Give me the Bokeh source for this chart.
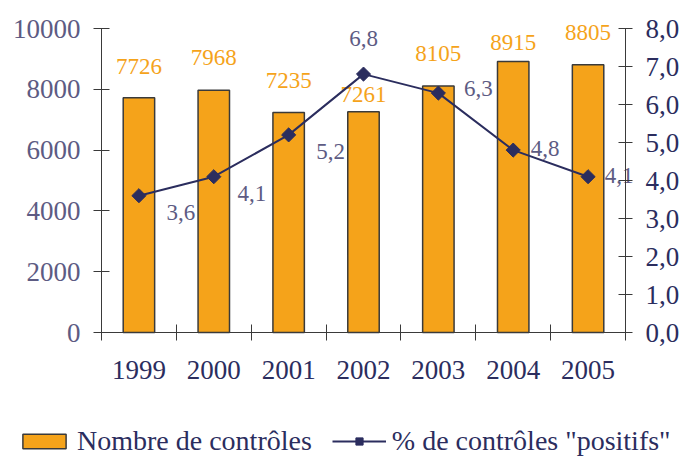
from math import pi
from bokeh.plotting import figure
from bokeh.models import (Range1d, LinearAxis, FixedTicker, ColumnDataSource,
                          Legend, LegendItem)
from bokeh.core.properties import value
from bokeh.embed import file_html
from bokeh.resources import INLINE

# ---- data ----
years = ["1999", "2000", "2001", "2002", "2003", "2004", "2005"]
controles = [7726, 7968, 7235, 7261, 8105, 8915, 8805]
positifs = [3.6, 4.1, 5.2, 6.8, 6.3, 4.8, 4.1]
positifs_labels = ["3,6", "4,1", "5,2", "6,8", "6,3", "4,8", "4,1"]
left_ticks = [0, 2000, 4000, 6000, 8000, 10000]
right_ticks = [0, 1, 2, 3, 4, 5, 6, 7, 8]
right_tick_labels = ["0,0", "1,0", "2,0", "3,0", "4,0", "5,0", "6,0", "7,0", "8,0"]
series_names = ["Nombre de contrôles", '% de contrôles "positifs"']

# ---- label placement (screen px, positive = down / right) ----
bar_label_dy = [-31, -33, -32, -17, -33, -19, -32]
pct_label_dx = [42, 38, 42, 0, 40, 32, 31]
pct_label_dy = [17, 17, 17, -36, -5, -2, -1]

FONT = "Liberation Serif"
ORANGE = "#F5A31A"
NAVY = "#2B2D5E"
GREYPURPLE = "#5D5B83"
AXIS = "#3A3A3A"

# ---- layout (pixels of the whole picture) ----
W, H = 681, 458
AX_L, AX_R = 101, 625      # left / right axis lines
AX_TOP, AX_BOT = 28, 332   # top tick / zero line

n_cat = len(years)
LEFT_MAX = left_ticks[-1]
RIGHT_MAX = right_ticks[-1]
ppx = (AX_R - AX_L) / n_cat
x_start = -AX_L / ppx
x_end = n_cat + (W - AX_R) / ppx
yfrac_lo = -(H - AX_BOT) / (AX_BOT - AX_TOP)
yfrac_hi = 1 + AX_TOP / (AX_BOT - AX_TOP)

centers = [i + 0.5 for i in range(n_cat)]
bounds = list(range(n_cat + 1))

src = ColumnDataSource(dict(
    x=centers, n=controles, n_label=[str(v) for v in controles],
    bdy=bar_label_dy, pct=positifs, pct_label=positifs_labels,
    ldx=pct_label_dx, ldy=pct_label_dy,
))

p = figure(width=W, height=H, x_range=Range1d(x_start, x_end),
           y_range=Range1d(LEFT_MAX * yfrac_lo, LEFT_MAX * yfrac_hi),
           output_backend="svg", toolbar_location=None,
           min_border_left=0, min_border_right=0,
           min_border_top=0, min_border_bottom=0)
p.outline_line_color = None
p.xgrid.visible = False
p.ygrid.visible = False
p.extra_y_ranges = {"pct": Range1d(RIGHT_MAX * yfrac_lo, RIGHT_MAX * yfrac_hi)}

# x axis (pinned at zero)
xa = p.xaxis[0]
xa.fixed_location = 0
xa.bounds = (0, n_cat)
xa.ticker = FixedTicker(ticks=centers, minor_ticks=bounds)
xa.major_label_overrides = {c: y for c, y in zip(centers, years)}
xa.major_tick_in = 0
xa.major_tick_out = 0
xa.minor_tick_in = 8
xa.minor_tick_out = 8
xa.minor_tick_line_color = AXIS
xa.axis_line_color = AXIS
xa.major_label_standoff = 20
xa.major_label_text_font = FONT
xa.major_label_text_font_size = "27px"
xa.major_label_text_color = NAVY

# left axis (pinned at the first category edge)
ya = p.yaxis[0]
ya.fixed_location = 0
ya.ticker = FixedTicker(ticks=left_ticks)
ya.major_label_overrides = {t: str(t) for t in left_ticks}
ya.bounds = (0, LEFT_MAX)
ya.major_tick_in = 8
ya.major_tick_out = 8
ya.minor_tick_line_color = None
ya.axis_line_color = AXIS
ya.major_tick_line_color = AXIS
ya.major_label_standoff = 13
ya.major_label_text_font = FONT
ya.major_label_text_font_size = "27px"
ya.major_label_text_color = GREYPURPLE

# right axis (pinned at the last category edge)
ra = LinearAxis(y_range_name="pct", ticker=FixedTicker(ticks=right_ticks),
                major_label_overrides=dict(zip(right_ticks, right_tick_labels)),
                bounds=(0, RIGHT_MAX), fixed_location=n_cat)
ra.major_tick_in = 7
ra.major_tick_out = 7
ra.minor_tick_line_color = None
ra.axis_line_color = AXIS
ra.major_tick_line_color = AXIS
ra.major_label_standoff = 13
ra.major_label_text_font = FONT
ra.major_label_text_font_size = "27px"
ra.major_label_text_color = NAVY
p.add_layout(ra, "right")

# bars
bars = p.vbar(x="x", top="n", bottom=0, width=0.42, source=src,
              fill_color=ORANGE, line_color=AXIS, line_width=1.5)
p.text(x="x", y="n", text="n_label", y_offset="bdy", source=src,
       text_align="center", text_baseline="middle", text_font=value(FONT),
       text_font_size="23px", text_color=ORANGE)

# line
ln = p.line(x="x", y="pct", source=src, y_range_name="pct",
            line_color=NAVY, line_width=2)
pts = p.scatter(x="x", y="pct", source=src, y_range_name="pct",
                marker="square", angle=pi / 4, size=10,
                fill_color=NAVY, line_color=NAVY)
p.text(x="x", y="pct", text="pct_label", x_offset="ldx", y_offset="ldy",
       source=src, y_range_name="pct", text_align="center",
       text_baseline="middle", text_font=value(FONT), text_font_size="23px",
       text_color=GREYPURPLE)

legend = Legend(
    items=[LegendItem(label=series_names[0], renderers=[bars]),
           LegendItem(label=series_names[1], renderers=[ln, pts])],
    orientation="horizontal", location=(17, 1),
    label_text_font=FONT, label_text_font_size="28px",
    label_text_color=NAVY, glyph_width=54, glyph_height=18,
    label_standoff=6, spacing=20, padding=0, margin=0,
    border_line_color=None, background_fill_alpha=0,
)
p.add_layout(legend)

open("out.html", "w").write(file_html(p, INLINE))
